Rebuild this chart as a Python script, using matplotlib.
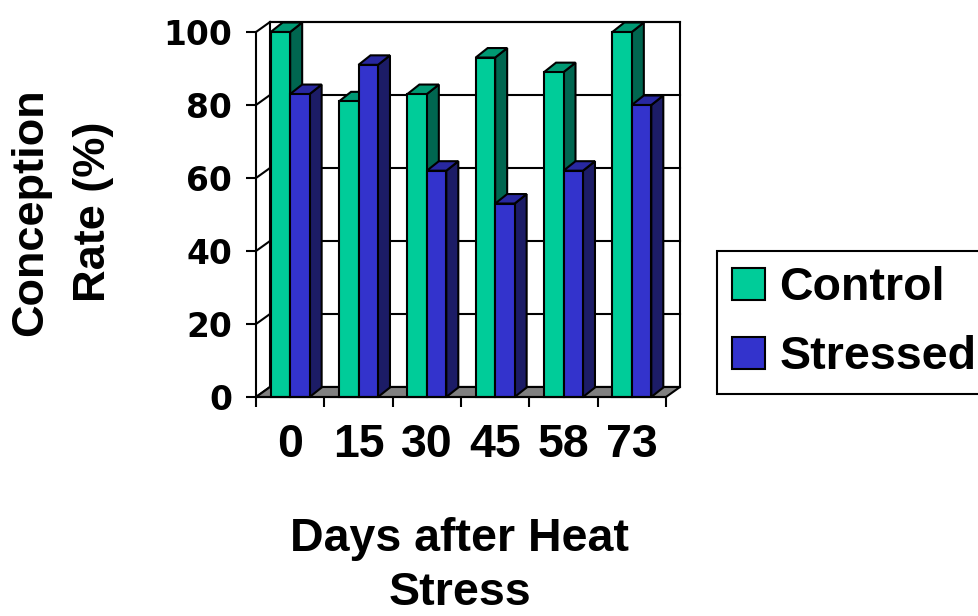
import numpy as np
import matplotlib.pyplot as plt
from matplotlib.patches import Polygon, Patch

# data
days = ['0', '15', '30', '45', '58', '73']
control = [100, 81, 83, 93, 89, 100]
stressed = [83, 91, 62, 53, 62, 80]
yticks = [0, 20, 40, 60, 80, 100]

green, green_top, green_side = '#00CC99', '#009973', '#006650'
blue, blue_top, blue_side = '#3333CC', '#2828A0', '#1C1C66'

W, H = 979, 616
fig = plt.figure(figsize=(W / 100, H / 100), dpi=100)

# front plane of the fake 3d box, in pixels
x0p, x1p, y0p, y1p = 256, 666, 397, 32
ax = fig.add_axes([x0p / W, 1 - y0p / H, (x1p - x0p) / W, (y0p - y1p) / H])
ax.set_xlim(0, len(days))
ax.set_ylim(0, 100)

cx = len(days) / (x1p - x0p)   # data units per pixel
cy = 100 / (y0p - y1p)
wdx, wdy = 14 * cx, 10 * cy    # wall depth
bdx, bdy = 12 * cx, 9.5 * cy   # bar depth
n = len(days)
lw = 1.5

# back wall + gridlines
ax.add_patch(Polygon([(wdx, wdy), (n + wdx, wdy), (n + wdx, 100 + wdy), (wdx, 100 + wdy)],
                     closed=True, fc='white', ec='black', lw=lw, zorder=1, clip_on=False))
for t in yticks:
    ax.plot([wdx, n + wdx], [t + wdy, t + wdy], color='black', lw=lw, zorder=1.5, clip_on=False)
    ax.plot([0, wdx], [t, t + wdy], color='black', lw=lw, zorder=1.5, clip_on=False)

# floor
ax.add_patch(Polygon([(0, 0), (n, 0), (n + wdx, wdy), (wdx, wdy)],
                     closed=True, fc='#808080', ec='black', lw=lw, zorder=2, clip_on=False))


def bar3d(x, w, h, front, top, side, z):
    ax.add_patch(Polygon([(x + w, 0), (x + w + bdx, bdy), (x + w + bdx, h + bdy), (x + w, h)],
                         closed=True, fc=side, ec='black', lw=lw, zorder=z, clip_on=False))
    ax.add_patch(Polygon([(x, h), (x + w, h), (x + w + bdx, h + bdy), (x + bdx, h + bdy)],
                         closed=True, fc=top, ec='black', lw=lw, zorder=z, clip_on=False))
    ax.add_patch(Polygon([(x, 0), (x + w, 0), (x + w, h), (x, h)],
                         closed=True, fc=front, ec='black', lw=lw, zorder=z, clip_on=False))


bw = 0.285
z = 3
for i in range(n):
    bar3d(i + 0.215, bw, control[i], green, green_top, green_side, z)
    bar3d(i + 0.5, bw, stressed[i], blue, blue_top, blue_side, z + 0.1)
    z += 0.2

for s in ['top', 'right']:
    ax.spines[s].set_visible(False)
for s in ['left', 'bottom']:
    ax.spines[s].set_linewidth(lw)
    ax.spines[s].set_zorder(10)
ax.patch.set_visible(False)

ax.set_yticks(yticks)
ax.set_yticklabels([str(t) for t in yticks], fontfamily='DejaVu Sans',
                   fontweight='bold', fontsize=23.7)
ax.tick_params(axis='y', length=7.2, width=lw, pad=10)

ax.set_xticks(np.arange(n + 1))
ax.set_xticklabels([])
ax.set_xticks(np.arange(n) + 0.5, minor=True)
ax.set_xticklabels(days, minor=True, fontfamily='Liberation Sans',
                   fontweight='bold', fontsize=33.5)
ax.tick_params(axis='x', which='major', length=7.2, width=lw)
ax.tick_params(axis='x', which='minor', length=0, pad=19)

fig.text(460 / W, 1 - 615 / H, 'Days after Heat\nStress', ha='center', va='bottom',
         fontfamily='Liberation Sans', fontweight='bold', fontsize=33.5, linespacing=1.28)
fig.text(62 / W, 1 - 212 / H, 'Conception\nRate (%)', ha='center', va='center', rotation=90,
         fontfamily='Liberation Sans', fontweight='bold', fontsize=32.5, linespacing=1.7)

handles = [Patch(fc=green, ec='black', lw=lw), Patch(fc=blue, ec='black', lw=lw)]
leg = fig.legend(handles, ['Control', 'Stressed'], loc='upper left',
                 bbox_to_anchor=(717 / W, 1 - 251 / H), borderaxespad=0,
                 prop={'family': 'Liberation Sans', 'weight': 'bold', 'size': 33.5},
                 fancybox=False, edgecolor='black', framealpha=1,
                 borderpad=0.32, handlelength=0.72, handleheight=0.68,
                 handletextpad=0.3, labelspacing=0.55)
leg.get_frame().set_linewidth(lw)

fig.savefig('out.png', dpi=100)
